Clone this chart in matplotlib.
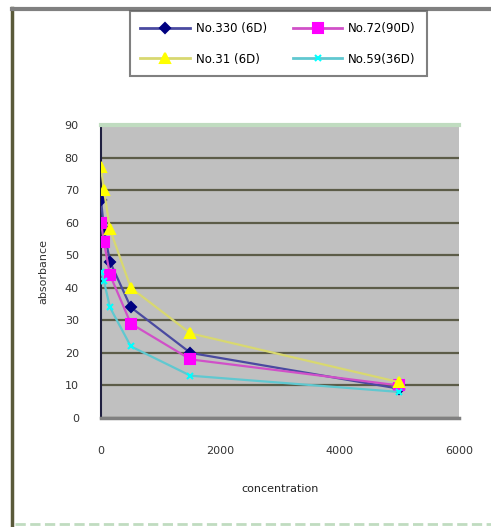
import numpy as np
import matplotlib.pyplot as plt
from matplotlib.lines import Line2D

# concentration values and absorbance per sample
conc = [0, 50, 150, 500, 1500, 5000]
no330 = [67, 58, 48, 34, 20, 9]
no72 = [60, 54, 44, 29, 18, 10]
no31 = [77, 70, 58, 40, 26, 11]
no59 = [45, 42, 34, 22, 13, 8]

labels = ['No.330 (6D)', 'No.72(90D)', 'No.31 (6D)', 'No.59(36D)']

fig = plt.figure(figsize=(4.91, 5.27), dpi=100)
ax = fig.add_axes([0.2057, 0.2068, 0.729, 0.556])
ax.set_facecolor('#c0c0c0')

styles = [
    (no330, '#4a4aa0', '#000080', 'D', 5),
    (no72, '#d050c8', '#ff00ff', 's', 6.5),
    (no31, '#d8d870', '#ffff00', '^', 7),
    (no59, '#60c8d0', '#00ffff', 'x', 4.5),
]
for (vals, lc, mc, mk, ms) in styles:
    ax.plot(conc, vals, color=lc, lw=1.6, marker=mk, ms=ms,
            markerfacecolor=mc, markeredgecolor=mc, mew=1.5, zorder=3)

ax.set_xlim(0, 6000)
ax.set_ylim(0, 90)
ax.set_xticks([0, 2000, 4000, 6000])
ax.set_yticks(np.arange(0, 91, 10))
ax.grid(axis='y', color='#5c5c48', lw=1.6)
ax.set_axisbelow(True)
ax.tick_params(labelsize=8, colors='#333333', length=0)
ax.tick_params(axis='x', pad=20)
ax.tick_params(axis='y', pad=16)
for s in ['top', 'right']:
    ax.spines[s].set_visible(False)
ax.spines['left'].set_color('#202040')
ax.spines['left'].set_linewidth(1.5)
ax.spines['bottom'].set_color('#808080')
ax.spines['bottom'].set_linewidth(2.5)
ax.axhline(90, color='#c0dcc0', lw=3, zorder=4, clip_on=False)

ax.set_xlabel('concentration', fontsize=8, color='#222222', labelpad=20)
ax.set_ylabel('absorbance', fontsize=8, color='#333333', labelpad=12)

# figure border lines
fig.add_artist(Line2D([0.024, 0.024], [0.0, 0.985], color='#5a5a3a', lw=2.5))
fig.add_artist(Line2D([0.024, 1.0], [0.983, 0.983], color='#808080', lw=3))
fig.add_artist(Line2D([0.03, 1.0], [0.005, 0.005], color='#c0dcc0', lw=2, ls='--'))

handles = [Line2D([], [], color=lc, lw=2, marker=mk, ms=ms, markerfacecolor=mc,
                  markeredgecolor=mc, mew=1.5)
           for (_, lc, mc, mk, ms) in styles]
# legend fills column-wise, reorder so rows read 330/72 then 31/59
order = [0, 2, 1, 3]
leg = fig.legend([handles[i] for i in order], [labels[i] for i in order],
                 loc='upper left', bbox_to_anchor=(0.252, 0.99),
                 ncol=2, fontsize=8.5, frameon=True, fancybox=False, handlelength=4.2,
                 columnspacing=2.2, borderpad=0.9, labelspacing=1.5, handletextpad=0.5)
leg.get_frame().set_edgecolor('#606060')
leg.get_frame().set_linewidth(1.5)

fig.savefig('out.png', dpi=100)
